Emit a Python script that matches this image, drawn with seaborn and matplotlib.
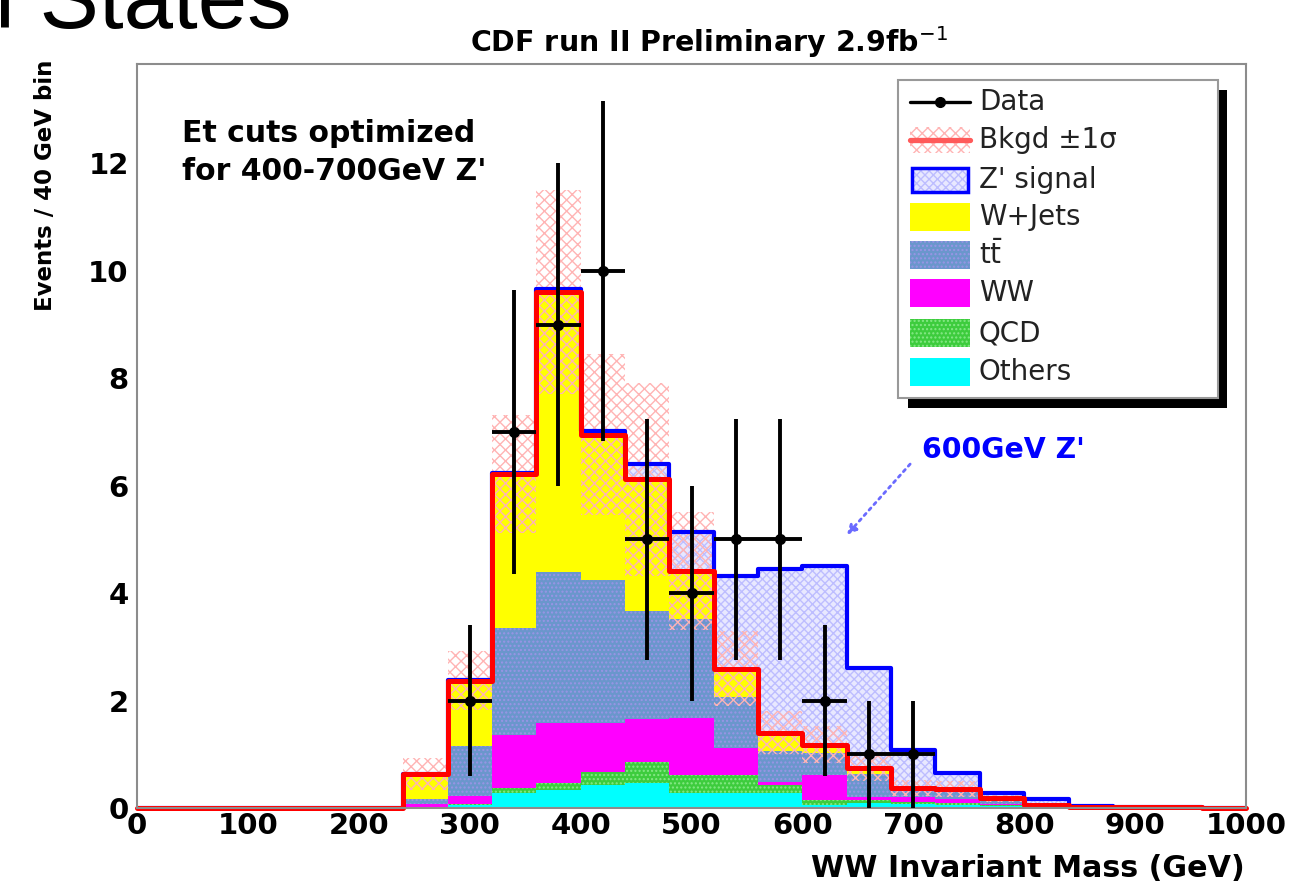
import numpy as np
import pandas as pd
import matplotlib
matplotlib.use("Agg")
import matplotlib.pyplot as plt
from matplotlib.patches import Rectangle
from matplotlib.lines import Line2D
import seaborn as sns

# 40 GeV bins between 0 and 1000 GeV
bin_edges = np.arange(0, 1040, 40)
bin_centers = bin_edges[:-1] + 20

# expected events per bin, stack order from the bottom upwards
others_bkg = [0, 0, 0, 0, 0, 0, 0.00, 0.06, 0.28, 0.34, 0.43, 0.47, 0.28, 0.28, 0.28, 0.05, 0.10, 0.08, 0.06, 0.03, 0.01, 0.00, 0, 0, 0]
qcd_bkg = [0, 0, 0, 0, 0, 0, 0.02, 0.02, 0.09, 0.13, 0.24, 0.39, 0.34, 0.34, 0.15, 0.10, 0.05, 0.04, 0.04, 0.02, 0.00, 0.00, 0, 0, 0]
ww_bkg = [0, 0, 0, 0, 0, 0, 0.05, 0.15, 0.99, 1.12, 0.91, 0.80, 1.06, 0.50, 0.05, 0.47, 0.05, 0.08, 0.06, 0.03, 0.01, 0.02, 0.02, 0.01, 0]
ttbar_bkg = [0, 0, 0, 0, 0, 0, 0.10, 0.93, 2.00, 2.80, 2.67, 2.00, 1.83, 0.95, 0.58, 0.41, 0.43, 0.15, 0.17, 0.10, 0.03, 0.00, 0, 0, 0]
wjets_bkg = [0, 0, 0, 0, 0, 0, 0.46, 1.21, 2.85, 5.22, 2.70, 2.46, 0.90, 0.52, 0.34, 0.15, 0.12, 0.02, 0.02, 0.01, 0.00, 0.00, 0, 0, 0]
zprime_sig = [0, 0, 0, 0, 0, 0, 0.00, 0.02, 0.03, 0.05, 0.06, 0.28, 0.72, 1.72, 3.04, 3.32, 1.85, 0.71, 0.30, 0.09, 0.12, 0.02, 0, 0, 0]
bkg_sigma = [0, 0, 0, 0, 0, 0, 0.30, 0.55, 1.10, 1.90, 1.50, 1.80, 1.10, 0.70, 0.40, 0.35, 0.25, 0.15, 0.15, 0.07, 0.03, 0.02, 0, 0, 0]

# observed events with their statistical errors
data_mass = [300, 340, 380, 420, 460, 500, 540, 580, 620, 660, 700]
data_events = [2, 7, 9, 10, 5, 4, 5, 5, 2, 1, 1]
data_err = [1.41, 2.65, 3.00, 3.16, 2.24, 2.00, 2.24, 2.24, 1.41, 1.00, 1.00]

x_ticks = [0, 100, 200, 300, 400, 500, 600, 700, 800, 900, 1000]
x_tick_labels = ["0", "100", "200", "300", "400", "500", "600", "700", "800", "900", "1000"]
y_ticks = [0, 2, 4, 6, 8, 10, 12]
y_tick_labels = ["0", "2", "4", "6", "8", "10", "12"]

W, H = 1291, 888
sns.set_theme(style="white")
plt.rcParams["font.family"] = ["DejaVu Sans"]
plt.rcParams["text.color"] = "black"
plt.rcParams["hatch.linewidth"] = 1.0

fig = plt.figure(figsize=(W / 100, H / 100), dpi=100)
fig.patch.set_facecolor("white")
ax = fig.add_axes([137 / W, 1 - 808 / H, (1246 - 137) / W, (808 - 64) / H])
ax.set_facecolor("white")

# name, values, face colour, hatch, hatch colour
stack_layers = [
    ("Others", others_bkg, "#00ffff", None, None),
    ("QCD", qcd_bkg, "#3dcc3d", "....", "#86e886"),
    ("WW", ww_bkg, "#ff00ff", None, None),
    ("ttbar", ttbar_bkg, "#6a97cc", "....", "#9a94e6"),
    ("W+Jets", wjets_bkg, "#ffff00", None, None),
    ("Zprime", zprime_sig, "#e8e8ff", "xxxx", "#bdbdff"),
]

running = np.zeros(len(bin_centers))
tops = []
for layer in stack_layers:
    running = running + np.asarray(layer[1], dtype=float)
    tops.append(running.copy())


def binned(values):
    return pd.DataFrame({"mass": bin_centers.astype(float), "events": np.asarray(values, dtype=float)})


edges = [float(e) for e in bin_edges]

# cumulative histograms, tallest first so each lower layer sits in front
for i, ((name, vals, face, hatch, hcol), top) in enumerate(reversed(list(zip(stack_layers, tops)))):
    n_before = len(ax.collections)
    sns.histplot(data=binned(top), x="mass", weights="events", bins=edges, element="step",
                 fill=True, color=face, alpha=1, linewidth=0, ax=ax)
    for poly in ax.collections[n_before:]:
        poly.set_facecolor(face)
        poly.set_edgecolor(hcol if hatch else face)
        poly.set_linewidth(0)
        poly.set_alpha(1)
        if hatch:
            poly.set_hatch(hatch)
        poly.set_zorder(1 + 0.01 * i)

bkg_total = tops[4]
sig_total = tops[5]
sigma = np.asarray(bkg_sigma, dtype=float)

# background uncertainty band
ax.stairs(bkg_total + sigma, bin_edges, baseline=np.clip(bkg_total - sigma, 0, None),
          fill=True, facecolor="none", edgecolor="#ffb4b4", hatch="xxx",
          linewidth=0, zorder=2.0)

# signal + background outline, then total background outline
n_before = len(ax.lines)
sns.histplot(data=binned(sig_total), x="mass", weights="events", bins=edges, element="step",
             fill=False, color="#0000ff", linewidth=3.0, ax=ax)
for ln in ax.lines[n_before:]:
    ln.set_zorder(2.3)
n_before = len(ax.lines)
sns.histplot(data=binned(bkg_total), x="mass", weights="events", bins=edges, element="step",
             fill=False, color="#ff0000", linewidth=3.6, ax=ax)
for ln in ax.lines[n_before:]:
    ln.set_zorder(2.4)
    ln.set_clip_on(False)

ax.errorbar(data_mass, data_events, yerr=data_err, xerr=20, fmt="o", color="black",
            ms=7, elinewidth=2.8, capsize=0, zorder=3)

ax.set_xlim(0, 1000)
ax.set_ylim(0, 13.85)
ax.set_xlabel("")
ax.set_ylabel("")
ax.set_xticks(x_ticks)
ax.set_xticklabels(x_tick_labels, fontweight="bold", fontsize=21)
ax.set_yticks(y_ticks)
ax.set_yticklabels(y_tick_labels, fontweight="bold", fontsize=21)
ax.set_xticks(np.arange(0, 1001, 20), minor=True)
ax.set_yticks(np.arange(0, 13.6, 0.5), minor=True)
ax.tick_params(which="both", direction="in", top=False, right=False,
               color="#808080", width=1.4, labelcolor="black")
ax.tick_params(axis="x", which="major", length=16, pad=3)
ax.tick_params(axis="x", which="minor", length=8)
ax.tick_params(axis="y", which="major", length=21, pad=6)
ax.tick_params(axis="y", which="minor", length=11)
for s in ax.spines.values():
    s.set_color("#8c8c8c")
    s.set_linewidth(1.5)
ax.grid(False)

# overlay in figure pixels for titles, notes and the legend box
lax = fig.add_axes([0, 0, 1, 1], zorder=5)
lax.set_xlim(0, W)
lax.set_ylim(H, 0)
lax.axis("off")

lax.text(-5, 28, "l States", fontsize=64, family="Liberation Sans", va="baseline", ha="left",
         color="black")
lax.text(470, 52, r"CDF run II Preliminary 2.9fb$^{-1}$", fontsize=20.5, fontweight="bold",
         va="baseline", ha="left", color="black")
lax.text(46, 60, "Events / 40 GeV bin", rotation=90, fontsize=16.5, fontweight="bold",
         ha="center", va="top", color="black")
lax.text(1245, 877, "WW Invariant Mass (GeV)", fontsize=21.7, fontweight="bold",
         ha="right", va="baseline", color="black")
lax.text(182, 142, "Et cuts optimized", fontsize=21.5, fontweight="bold", va="baseline",
         color="black")
lax.text(182, 180, "for 400-700GeV Z'", fontsize=21.5, fontweight="bold", va="baseline",
         color="black")
lax.text(922, 458, "600GeV Z'", fontsize=20.4, fontweight="bold", color="#0000ff",
         va="baseline")
lax.annotate("", xy=(845, 537), xytext=(912, 462),
             arrowprops=dict(arrowstyle="-|>", color="#6a6aff", lw=2, linestyle=":",
                             mutation_scale=14))

# legend box with drop shadow
lax.add_patch(Rectangle((908, 90), 1227 - 908, 408 - 90, facecolor="black", edgecolor="none"))
lax.add_patch(Rectangle((898, 80), 1218 - 898, 398 - 80, facecolor="white",
                        edgecolor="#999999", lw=1.5))

rows = [102, 140, 180, 217, 255, 293, 333, 372]
labels = ["Data", "Bkgd \u00b11\u03c3", "Z' signal", "W+Jets", r"$\mathrm{t\bar{t}}$", "WW", "QCD", "Others"]
sx, sw, sh = 910, 60, 28

lax.add_line(Line2D([sx, sx + sw], [rows[0], rows[0]], color="black", lw=2.4))
lax.plot([sx + sw / 2], [rows[0]], "o", color="black", ms=7)

lax.add_patch(Rectangle((sx, rows[1] - 13), sw, 26, facecolor="none", edgecolor="#ffb4b4",
                        hatch="xxx", lw=0))
lax.add_line(Line2D([sx, sx + sw], [rows[1], rows[1]], color="#ff5a5a", lw=3.8))

lax.add_patch(Rectangle((sx + 2, rows[2] - 12), sw - 4, 24, facecolor="#e8e8ff",
                        edgecolor="#bdbdff", hatch="xxxx", lw=0))
lax.add_patch(Rectangle((sx + 2, rows[2] - 12), sw - 4, 24, facecolor="none",
                        edgecolor="#0000ff", lw=2.5))

legend_fills = [(3, "#ffff00", None, None), (4, "#6a97cc", "....", "#9a94e6"),
                (5, "#ff00ff", None, None), (6, "#3dcc3d", "....", "#86e886"),
                (7, "#00ffff", None, None)]
for idx, face, hatch, hcol in legend_fills:
    lax.add_patch(Rectangle((sx, rows[idx] - sh / 2), sw, sh, facecolor=face,
                            edgecolor=hcol if hatch else face, hatch=hatch, lw=0))

for y, lab in zip(rows, labels):
    lax.text(979, y, lab, fontsize=20, va="center", ha="left", color="#222222")

fig.savefig("out.png", dpi=100)
